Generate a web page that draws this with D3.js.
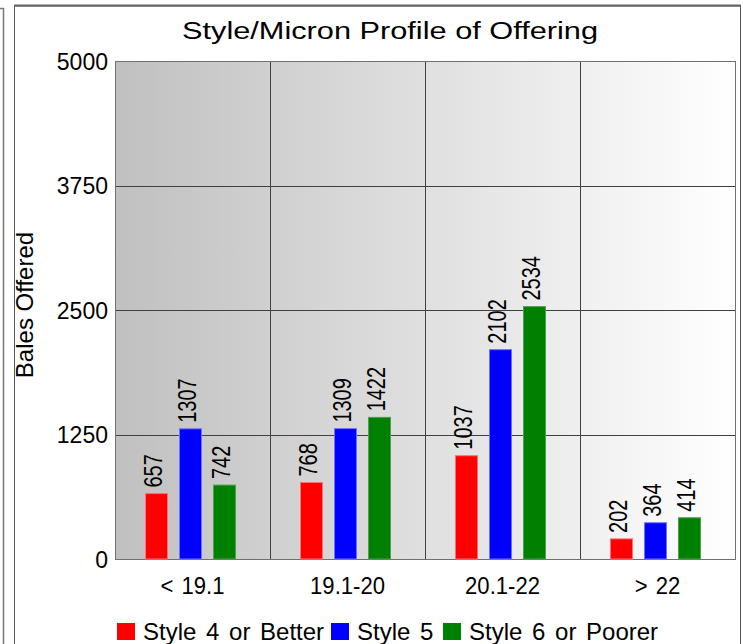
<!DOCTYPE html>
<html>
<head>
<meta charset="utf-8">
<script src="https://cdn.jsdelivr.net/npm/d3@7"></script>
<style>
  body { margin: 0; background: #fff; }
  text { font-family: "Liberation Sans", Arial, sans-serif; fill: #000; }
</style>
</head>
<body>
<script>
var width = 743;
var height = 644;

// data
var categories = ["< 19.1", "19.1-20", "20.1-22", "> 22"];
var seriesNames = ["Style 4 or Better", "Style 5", "Style 6 or Poorer"];
var style4 = [657, 768, 1037, 202];
var style5 = [1307, 1309, 2102, 364];
var style6 = [742, 1422, 2534, 414];
var yTicks = [0, 1250, 2500, 3750, 5000];
var colors = ["#ff0000", "#0000ff", "#008000"];
var strokes = ["#ff7070", "#7070ff", "#50a050"];

var plot = { left: 115, right: 735, top: 61, bottom: 559 };

var svg = d3.select("body").append("svg")
  .attr("width", width)
  .attr("height", height);

// gradient for the plot background
var grad = svg.append("defs").append("linearGradient")
  .attr("id", "bg")
  .attr("x1", "0%").attr("x2", "100%")
  .attr("y1", "0%").attr("y2", "0%");
grad.append("stop").attr("offset", "0%").attr("stop-color", "#c0c0c0");
grad.append("stop").attr("offset", "100%").attr("stop-color", "#ffffff");

// outer frame
svg.append("path")
  .attr("d", "M0,8.5H3.5V644")
  .attr("fill", "none").attr("stroke", "#777").attr("stroke-width", 1.5);
svg.append("path")
  .attr("d", "M14.5,644V6H740.5V644")
  .attr("fill", "none").attr("stroke", "#555").attr("stroke-width", 1);
svg.append("line")
  .attr("x1", 14).attr("x2", 741).attr("y1", 5.5).attr("y2", 5.5)
  .attr("stroke", "#666").attr("stroke-width", 2);

// scales
var x = d3.scaleBand().domain(categories).range([plot.left, plot.right]);
var x1 = d3.scaleBand().domain(seriesNames).range([-47.5, 43.5]).paddingInner(11 / 34);
var y = d3.scaleLinear().domain([0, 5000]).range([plot.bottom, plot.top]);

svg.append("rect")
  .attr("x", plot.left).attr("y", plot.top)
  .attr("width", plot.right - plot.left)
  .attr("height", plot.bottom - plot.top)
  .attr("fill", "url(#bg)");

// horizontal grid
svg.append("g")
  .selectAll("line")
  .data(yTicks)
  .enter().append("line")
  .attr("x1", plot.left).attr("x2", plot.right)
  .attr("y1", function(d) { return Math.round(y(d)) + 0.5; })
  .attr("y2", function(d) { return Math.round(y(d)) + 0.5; })
  .attr("stroke", "#404040");

// vertical grid between categories
svg.append("g")
  .selectAll("line")
  .data(categories.slice(1))
  .enter().append("line")
  .attr("x1", function(d) { return Math.round(x(d)) + 0.5; })
  .attr("x2", function(d) { return Math.round(x(d)) + 0.5; })
  .attr("y1", plot.top).attr("y2", plot.bottom)
  .attr("stroke", "#404040");

// plot outline
svg.append("rect")
  .attr("x", plot.left + 0.5).attr("y", plot.top + 0.5)
  .attr("width", plot.right - plot.left)
  .attr("height", plot.bottom - plot.top)
  .attr("fill", "none").attr("stroke", "#707070");

// y axis labels
var yAxis = d3.axisLeft(y).tickValues(yTicks).tickFormat(d3.format("d")).tickSize(0).tickPadding(7);
var yg = svg.append("g")
  .attr("transform", "translate(" + plot.left + ",0)")
  .call(yAxis);
yg.select(".domain").remove();
yg.selectAll("text")
  .style("font-size", "23px")
  .attr("font-family", null)
  .attr("dy", "0.36em");

// x axis labels
var xAxis = d3.axisBottom(x).tickSize(0).tickPadding(18);
var xg = svg.append("g")
  .attr("transform", "translate(0," + plot.bottom + ")")
  .call(xAxis);
xg.select(".domain").remove();
xg.selectAll("text")
  .style("font-size", "24px")
  .style("word-spacing", "2px")
  .attr("font-family", null)
  .attr("transform", "scale(0.92,1)");

// bars
var rows = categories.map(function(c, i) {
  return [
    { cat: c, s: seriesNames[0], v: style4[i], k: 0 },
    { cat: c, s: seriesNames[1], v: style5[i], k: 1 },
    { cat: c, s: seriesNames[2], v: style6[i], k: 2 }
  ];
});

var groups = svg.append("g")
  .selectAll("g")
  .data(rows)
  .enter().append("g")
  .attr("transform", function(d, i) {
    return "translate(" + (x(categories[i]) + x.bandwidth() / 2) + ",0)";
  });

groups.selectAll("rect")
  .data(function(d) { return d; })
  .enter().append("rect")
  .attr("x", function(d) { return x1(d.s) + 0.5; })
  .attr("y", function(d) { return y(d.v); })
  .attr("width", x1.bandwidth() - 1)
  .attr("height", function(d) { return plot.bottom - y(d.v); })
  .attr("fill", function(d) { return colors[d.k]; })
  .attr("stroke", function(d) { return strokes[d.k]; })
  .attr("stroke-width", 1);

// value labels, glyphs are a bit wider than plain Arial
groups.selectAll("text")
  .data(function(d) { return d; })
  .enter().append("text")
  .attr("transform", function(d) {
    return "translate(" + (x1(d.s) + x1.bandwidth() / 2 + 5) + "," + (y(d.v) - 6) + ") scale(1.3,1) rotate(-90)";
  })
  .style("font-size", "20px")
  .text(function(d) { return d.v; });

// title
svg.append("text")
  .attr("x", 390).attr("y", 39)
  .attr("text-anchor", "middle")
  .style("font-size", "23px")
  .attr("textLength", 416)
  .attr("lengthAdjust", "spacingAndGlyphs")
  .text("Style/Micron Profile of Offering");

// y axis title
svg.append("text")
  .attr("transform", "translate(33,305) rotate(-90)")
  .attr("text-anchor", "middle")
  .style("font-size", "24px")
  .text("Bales Offered");

// legend
var legendX = [117, 331, 443];
var legend = svg.append("g")
  .selectAll("g")
  .data(seriesNames)
  .enter().append("g")
  .attr("transform", function(d, i) { return "translate(" + legendX[i] + ",623)"; });
legend.append("rect")
  .attr("width", 18).attr("height", 17)
  .attr("fill", function(d, i) { return colors[i]; });
legend.append("text")
  .attr("x", 26).attr("y", 17)
  .style("font-size", "24px")
  .style("word-spacing", "3px")
  .text(function(d) { return d; });
</script>
</body>
</html>
